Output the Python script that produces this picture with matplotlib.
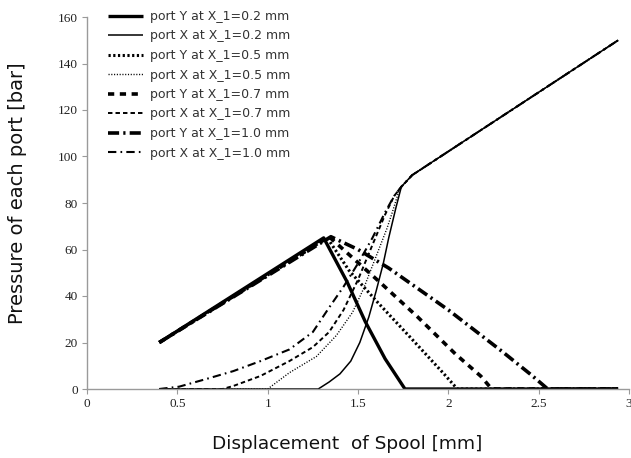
import matplotlib
matplotlib.use("Agg")
import matplotlib.pyplot as plt

plt.rcParams['lines.scale_dashes'] = False

# ---- data ----
Y02_x = [0.40, 1.31, 1.44, 1.54, 1.65, 1.76, 2.94]
Y02_y = [20, 65, 46, 29, 13, 0, 0]

X02_x = [0.40, 1.28, 1.34, 1.40, 1.46, 1.51, 1.56, 1.60, 1.64, 1.67, 1.71, 1.74, 1.80, 2.94]
X02_y = [0, 0, 3, 6.5, 12, 20, 31, 42, 54, 65, 78, 87, 92, 150]

Y05_x = [0.40, 1.33, 1.45, 1.60, 1.78, 1.97, 2.05, 2.94]
Y05_y = [20, 65, 51, 38, 23, 7, 0, 0]

X05_x = [0.40, 1.00, 1.12, 1.27, 1.38, 1.47, 1.53, 1.60, 1.66, 1.69, 1.73, 1.80, 2.94]
X05_y = [0, 0, 7, 14, 23, 33, 43, 57, 69, 76, 86, 92, 150]

Y07_x = [0.40, 1.34, 1.62, 1.83, 2.04, 2.18, 2.24, 2.94]
Y07_y = [20, 65.5, 46, 31, 15, 5.5, 0, 0]

X07_x = [0.40, 0.75, 0.81, 0.96, 1.12, 1.25, 1.34, 1.42, 1.50, 1.58, 1.65, 1.70, 1.74, 1.80, 2.94]
X07_y = [0, 0, 1.3, 5.6, 12, 18, 24.5, 34, 47, 62, 75, 83, 87, 92, 150]

Y10_x = [0.40, 1.35, 1.50, 1.67, 2.00, 2.30, 2.46, 2.55, 2.94]
Y10_y = [20, 65.5, 60, 52, 34, 16, 6, 0, 0]

X10_x = [0.40, 0.51, 0.66, 0.81, 0.96, 1.12, 1.25, 1.34, 1.42, 1.50, 1.58, 1.65, 1.70, 1.74, 1.80, 2.94]
X10_y = [0, 1, 4.3, 7.7, 12, 17, 24.5, 35, 44, 54, 65, 76, 83, 87, 92, 150]

labels = ["port Y at X_1=0.2 mm", "port X at X_1=0.2 mm",
          "port Y at X_1=0.5 mm", "port X at X_1=0.5 mm",
          "port Y at X_1=0.7 mm", "port X at X_1=0.7 mm",
          "port Y at X_1=1.0 mm", "port X at X_1=1.0 mm"]

xticks = [0, 0.5, 1, 1.5, 2, 2.5, 3]
xticklabels = ["0", "0.5", "1", "1.5", "2", "2.5", "3"]
yticks = [0, 20, 40, 60, 80, 100, 120, 140, 160]

W, H = 631, 458
fig = plt.figure(figsize=(W / 100, H / 100), dpi=100)
ax = fig.add_axes([87 / W, (H - 389) / H, 542 / W, 372 / H])

series = [
    (Y02_x, Y02_y, dict(lw=2.4, ls='-')),
    (X02_x, X02_y, dict(lw=1.1, ls='-')),
    (Y05_x, Y05_y, dict(lw=2.2, ls=(0, (1.6, 1.8)))),
    (X05_x, X05_y, dict(lw=1.0, ls=(0, (0.8, 1.2)))),
    (Y07_x, Y07_y, dict(lw=2.6, ls=(0, (4.5, 4)))),
    (X07_x, X07_y, dict(lw=1.4, ls=(0, (3.2, 2.2)))),
    (Y10_x, Y10_y, dict(lw=2.6, ls=(0, (8, 3, 1.6, 3)))),
    (X10_x, X10_y, dict(lw=1.5, ls=(0, (6, 3, 1.2, 3)))),
]
for (xs, ys, st), lab in zip(series, labels):
    ax.plot(xs, ys, color='black', label=lab, solid_capstyle='butt',
            dash_capstyle='butt', **st)

ax.set_xlim(0, 3)
ax.set_ylim(0, 160)
ax.set_xticks(xticks)
ax.set_xticklabels(xticklabels)
ax.set_yticks(yticks)
for s in ['top', 'right']:
    ax.spines[s].set_visible(False)
for s in ['left', 'bottom']:
    ax.spines[s].set_color('#9a9a9a')
    ax.spines[s].set_linewidth(1.0)
ax.tick_params(axis='both', direction='out', length=3.5, color='#9a9a9a',
               labelsize=9.5, labelcolor='#222222', pad=3)
for t in ax.get_xticklabels() + ax.get_yticklabels():
    t.set_family('Liberation Serif')

fig.text(347 / W, 1 - 444 / H, "Displacement  of Spool [mm]", ha='center',
         va='center', fontsize=13.3, color='#111111', family='DejaVu Sans')
fig.text(18 / W, 1 - 193 / H, "Pressure of each port [bar]", ha='center',
         va='center', rotation=90, fontsize=14, color='#111111',
         family='DejaVu Sans')

leg = ax.legend(loc='upper left', bbox_to_anchor=(108 / W, 1 - 10 / H),
                bbox_transform=fig.transFigure, frameon=False,
                fontsize=9, handlelength=2.8, handletextpad=0.6,
                labelspacing=0.52, borderpad=0, borderaxespad=0)
for t in leg.get_texts():
    t.set_color('#333333')

fig.savefig("out.png", dpi=100)
